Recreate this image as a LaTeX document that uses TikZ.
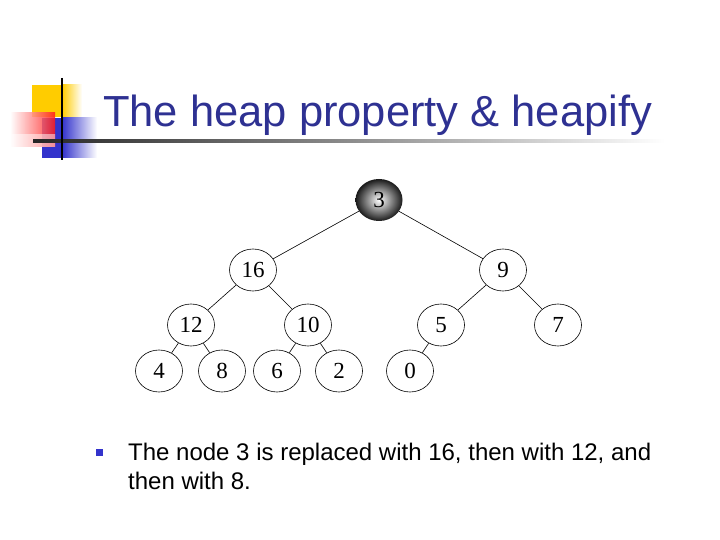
\documentclass[tikz,border=0pt]{standalone}
\usepackage{fontspec}
\setmainfont{Liberation Serif}
\newfontfamily\slidefont{Liberation Sans}
\usepackage{tikz}
\usetikzlibrary{shapes.geometric}
\definecolor{titleblue}{RGB}{46,49,146}
\definecolor{bulletblue}{RGB}{51,51,204}
\definecolor{decoyellow}{RGB}{255,204,0}
\tikzset{
  hnode/.style={ellipse, draw, line width=0.6pt, minimum width=47pt, minimum height=42pt,
    inner sep=0pt, font=\fontsize{23}{23}\selectfont},
  hedge/.style={line width=0.6pt}
}

\begin{document}
\begin{tikzpicture}[x=1pt,y=-1pt]
\useasboundingbox (0,0) rectangle (720,540);
% corner decoration
\fill[decoyellow] (32,85) rectangle (62,117);
\shade[left color=decoyellow, right color=white] (62,85) rectangle (82,117);
\fill[bulletblue] (42,118) rectangle (62,158);
\shade[left color=bulletblue, right color=white] (62,118) rectangle (97,158);
\shade[left color=white, right color=red!90, opacity=0.85] (10,113) rectangle (55,147);
\shade[top color=white, bottom color=white, opacity=0.5] (10,135) rectangle (55,147);
\shade[left color=black!85, right color=white, middle color=black!45] (33,139.5) rectangle (665,142.5);
\draw[line width=2.5pt] (62,78) -- (62,160);
% title
\node[anchor=base west, text=titleblue, font=\slidefont\fontsize{43.5}{50}\selectfont, inner sep=0pt]
  (title) at (103,127) {The heap property \& heapify};
% the heap
\node[hnode, draw=none, shading=radial, inner color=white, outer color=black!90] (n3) at (379,200) {3};
\node[hnode] (n16) at (253,270) {16};
\node[hnode] (n9) at (503,270) {9};
\node[hnode] (n12) at (191,325) {12};
\node[hnode] (n10) at (308,325) {10};
\node[hnode] (n5) at (441,325) {5};
\node[hnode] (n7) at (558,325) {7};
\node[hnode] (n4) at (159,371) {4};
\node[hnode] (n8) at (222,371) {8};
\node[hnode] (n6) at (277,371) {6};
\node[hnode] (n2) at (339,371) {2};
\node[hnode] (n0) at (410,371) {0};
\draw[hedge] (n3) -- (n16);
\draw[hedge] (n3) -- (n9);
\draw[hedge] (n16) -- (n12);
\draw[hedge] (n16) -- (n10);
\draw[hedge] (n9) -- (n5);
\draw[hedge] (n9) -- (n7);
\draw[hedge] (n12) -- (n4);
\draw[hedge] (n12) -- (n8);
\draw[hedge] (n10) -- (n6);
\draw[hedge] (n10) -- (n2);
\draw[hedge] (n5) -- (n0);
% bullet text
\node[fill=bulletblue, minimum size=7pt, inner sep=0pt] (bullet) at (99.5,452) {};
\node[anchor=base west, align=left, inner sep=0pt, font=\slidefont\fontsize{24}{29}\selectfont]
  (note) at (128,489) {The node 3 is replaced with 16, then with 12, and\\then with 8.};
\end{tikzpicture}
\end{document}
